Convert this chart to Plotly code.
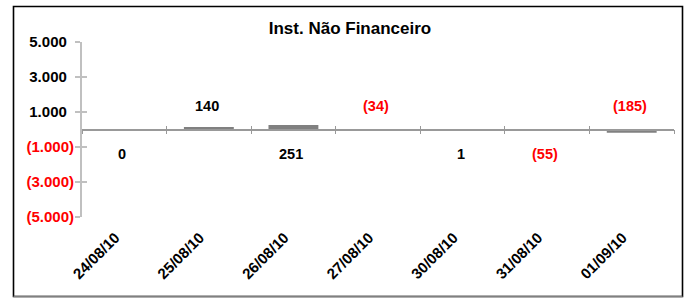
import plotly.graph_objects as go

# ---- data ----
dates = ["24/08/10", "25/08/10", "26/08/10", "27/08/10", "30/08/10", "31/08/10", "01/09/10"]
values = [0, 140, 251, -34, 1, -55, -185]
label_side = ["below", "above", "below", "above", "below", "below", "above"]
y_tickvals = [5000, 3000, 1000, -1000, -3000, -5000]
title_text = "Inst. Não Financeiro"

W, H = 689, 299
L, R, T, B = 82, 674, 42, 217  # plot area in pixels

FONT = "Liberation Sans, Arial, sans-serif"
RED = "#ff0000"


def fmt(v):
    s = f"{abs(v):,}".replace(",", ".")
    return f"({s})" if v < 0 else s


def ytick(v):
    s = f"{abs(v):,}".replace(",", ".")
    if v < 0:
        return f"<span style='color:{RED}'>({s})</span>"
    return s + "\u00a0\u2009"  # Excel-style padding so digits align with negatives


fig = go.Figure()
fig.add_trace(go.Bar(x=dates, y=values, marker=dict(color="#808080", line=dict(width=0)),
                     width=0.59, hoverinfo="skip", showlegend=False))
# helper invisible traces so that overlay axes are drawn
fig.add_trace(go.Scatter(x=dates, y=[0] * len(dates), xaxis="x2", yaxis="y", mode="markers",
                         marker=dict(opacity=0), hoverinfo="skip", showlegend=False))
fig.add_trace(go.Scatter(x=dates, y=[0] * len(dates), xaxis="x3", yaxis="y", mode="markers",
                         marker=dict(opacity=0), hoverinfo="skip", showlegend=False))
fig.add_trace(go.Scatter(x=dates, y=[0] * len(dates), xaxis="x", yaxis="y2", mode="markers",
                         marker=dict(opacity=0), hoverinfo="skip", showlegend=False))

annotations = []
for d, v, side in zip(dates, values, label_side):
    annotations.append(dict(
        x=d, y=0, xref="x", yref="y", text=fmt(v), showarrow=False,
        yshift=24 if side == "above" else -24, xshift=-2,
        font=dict(family=FONT, size=14.5, weight=700, color=RED if v < 0 else "#000000"),
    ))

pw, ph = R - L, B - T


def px(x):
    return (x - L) / pw


def py(y):
    return (B - y) / ph


shapes = [
    dict(type="rect", xref="paper", yref="paper", x0=px(13.5), x1=px(682.5), y0=py(296.5), y1=py(6.5),
         line=dict(color="#000000", width=1.6), layer="above"),
    dict(type="line", xref="paper", yref="paper", x0=px(13.5), x1=px(682.5), y0=py(296.5), y1=py(296.5),
         line=dict(color="#808080", width=1.6)),
]

cat_axis = dict(type="category", categoryorder="array", categoryarray=dates, range=[-0.5, len(dates) - 0.5],
                showgrid=False, zeroline=False, fixedrange=True, automargin=False)

fig.update_layout(
    width=W, height=H,
    margin=dict(l=L, r=W - R, t=T, b=H - B, pad=0, autoexpand=False),
    paper_bgcolor="#ffffff", plot_bgcolor="#ffffff",
    font=dict(family=FONT, size=14, color="#000000", weight=700),
    title=dict(text=title_text, x=350 / W, xref="container", xanchor="center",
               y=1 - 28.5 / H, yref="container", yanchor="middle", automargin=False,
               font=dict(family=FONT, size=17, weight=700, color="#000000")),
    xaxis=dict(**cat_axis, anchor="free", position=0.5, showline=True, linecolor="#999999", linewidth=1.5,
               ticks="outside", ticklen=4, tickwidth=1, tickcolor="#999999", tickson="boundaries",
               showticklabels=False),
    xaxis2=dict(**cat_axis, overlaying="x", anchor="free", position=0.5, showline=False,
                ticks="inside", ticklen=4, tickwidth=1, tickcolor="#999999", tickson="boundaries",
                showticklabels=False),
    xaxis3=dict(**cat_axis, overlaying="x", anchor="y", side="bottom", showline=False, ticks="",
                tickangle=-45, ticklabelstandoff=8, ticklabelshift=-9,
                tickfont=dict(family=FONT, size=15, weight=700, color="#000000")),
    yaxis=dict(range=[-5000, 5000], tickvals=y_tickvals, showticklabels=False,
               showgrid=False, zeroline=False, showline=True, linecolor="#c0c0c0", linewidth=2,
               ticks="outside", ticklen=5, tickwidth=1.5, tickcolor="#c0c0c0",
               fixedrange=True, automargin=False),
    yaxis2=dict(range=[-5000, 5000], tickvals=y_tickvals, ticktext=[ytick(v) for v in y_tickvals],
                overlaying="y", side="left", anchor="x",
                showgrid=False, zeroline=False, showline=False, automargin=False,
                ticks="inside", ticklen=5, tickwidth=1.5, tickcolor="#c0c0c0", fixedrange=True,
                ticklabelstandoff=7,
                tickfont=dict(family=FONT, size=15, weight=700, color="#000000")),
    annotations=annotations,
    shapes=shapes,
    showlegend=False,
)

fig.write_html("out.html", config={"displayModeBar": False},
               post_script="document.body.style.margin='0px';")
